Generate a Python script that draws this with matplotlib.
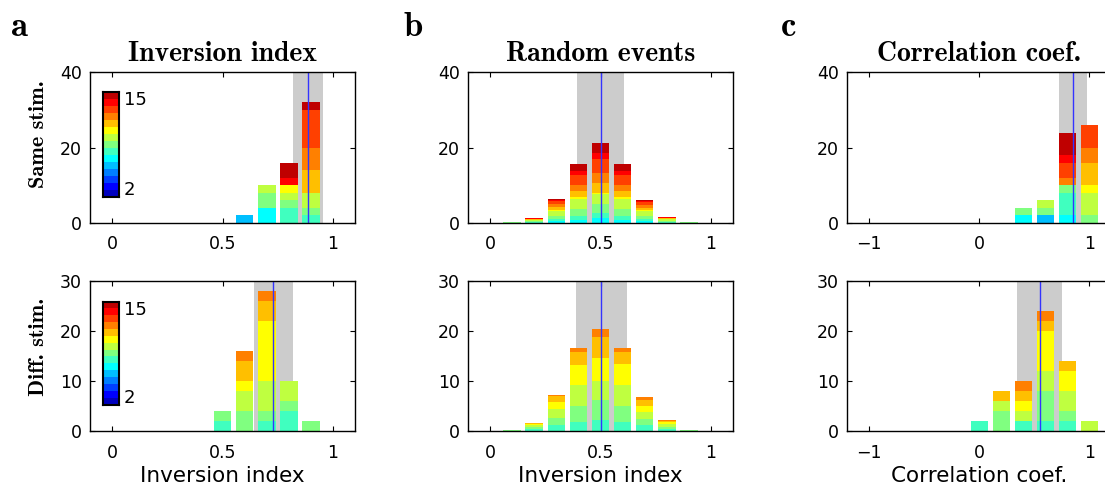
import numpy as np
import matplotlib
matplotlib.use("Agg")
import matplotlib.pyplot as plt
from matplotlib.colors import ListedColormap

# 15-step jet palette; keys of the count tables below index into it
level_colors = [
    (0.00, 0.00, 0.75), (0.00, 0.00, 1.00), (0.00, 0.25, 1.00), (0.00, 0.50, 1.00),
    (0.00, 0.75, 1.00), (0.00, 1.00, 1.00), (0.25, 1.00, 0.75), (0.50, 1.00, 0.50),
    (0.75, 1.00, 0.25), (1.00, 1.00, 0.00), (1.00, 0.75, 0.00), (1.00, 0.50, 0.00),
    (1.00, 0.25, 0.00), (1.00, 0.00, 0.00), (0.75, 0.00, 0.00),
]
cbar_low, cbar_high = 2, 15

# ---- Same stimulus, inversion index ----
same_inv_bins = [0.6, 0.7, 0.8, 0.9]
same_inv_counts = {
    4: [2, 0, 0, 0], 5: [0, 4, 0, 0], 6: [0, 0, 4, 2], 7: [0, 4, 2, 2],
    8: [0, 2, 2, 4], 9: [0, 0, 2, 0], 10: [0, 0, 0, 6], 11: [0, 0, 0, 6],
    12: [0, 0, 0, 10], 13: [0, 0, 2, 0], 14: [0, 0, 4, 2],
}
same_inv_band = (0.82, 0.953)
same_inv_median = 0.885

# ---- Same stimulus, random events ----
same_rand_bins = [0.1, 0.2, 0.3, 0.4, 0.5, 0.6, 0.7, 0.8, 0.9]
same_rand_counts = {
    5:  [0.0, 0.10, 0.4, 0.8, 1.2, 0.8, 0.4, 0.10, 0.0],
    6:  [0.1, 0.20, 0.6, 1.1, 1.5, 1.1, 0.6, 0.20, 0.1],
    7:  [0.1, 0.20, 0.8, 1.8, 2.3, 1.8, 0.8, 0.30, 0.1],
    8:  [0.0, 0.30, 1.4, 2.7, 2.6, 2.7, 1.3, 0.40, 0.0],
    9:  [0.0, 0.05, 0.3, 0.5, 0.4, 0.5, 0.3, 0.05, 0.0],
    10: [0.0, 0.10, 0.8, 1.5, 2.7, 1.5, 0.7, 0.20, 0.0],
    11: [0.0, 0.10, 0.7, 1.6, 2.6, 1.6, 0.6, 0.10, 0.0],
    12: [0.0, 0.10, 0.8, 2.7, 3.7, 2.7, 0.8, 0.10, 0.0],
    13: [0.0, 0.05, 0.3, 1.1, 1.6, 1.1, 0.3, 0.05, 0.0],
    14: [0.0, 0.10, 0.4, 1.9, 2.7, 1.9, 0.3, 0.10, 0.0],
}
same_rand_band = (0.394, 0.605)
same_rand_median = 0.5

# ---- Same stimulus, correlation coefficient ----
same_corr_bins = [0.4, 0.6, 0.8, 1.0]
same_corr_counts = {
    4: [0, 2, 0, 0], 5: [2, 0, 2, 0], 6: [0, 0, 6, 0], 7: [2, 2, 2, 2],
    8: [0, 2, 0, 6], 9: [0, 0, 0, 2], 10: [0, 0, 0, 6], 11: [0, 0, 2, 4],
    12: [0, 0, 4, 6], 13: [0, 0, 2, 0], 14: [0, 0, 6, 0],
}
same_corr_band = (0.72, 0.98)
same_corr_median = 0.85

# ---- Different stimulus, inversion index ----
diff_inv_bins = [0.5, 0.6, 0.7, 0.8, 0.9]
diff_inv_counts = {
    6: [2, 0, 2, 4, 0], 7: [2, 4, 2, 2, 2], 8: [0, 4, 6, 4, 0],
    9: [0, 2, 12, 0, 0], 10: [0, 4, 4, 0, 0], 11: [0, 2, 2, 0, 0],
}
diff_inv_band = (0.644, 0.82)
diff_inv_median = 0.73

# ---- Different stimulus, random events ----
diff_rand_bins = [0.1, 0.2, 0.3, 0.4, 0.5, 0.6, 0.7, 0.8, 0.9]
diff_rand_counts = {
    6:  [0.1, 0.4, 1.3, 1.9, 2.3, 1.9, 1.2, 0.4, 0.1],
    7:  [0.1, 0.4, 1.4, 3.2, 3.9, 3.2, 1.2, 0.5, 0.1],
    8:  [0.0, 0.4, 1.8, 4.1, 3.8, 4.2, 1.4, 0.5, 0.0],
    9:  [0.0, 0.3, 1.4, 4.0, 4.6, 4.2, 1.3, 0.4, 0.0],
    10: [0.0, 0.2, 1.2, 2.6, 4.2, 2.4, 1.2, 0.3, 0.0],
    11: [0.0, 0.0, 0.1, 0.8, 1.6, 0.7, 0.5, 0.1, 0.0],
}
diff_rand_band = (0.39, 0.62)
diff_rand_median = 0.5

# ---- Different stimulus, correlation coefficient ----
diff_corr_bins = [0.0, 0.2, 0.4, 0.6, 0.8, 1.0]
diff_corr_counts = {
    6: [2, 0, 2, 2, 2, 0], 7: [0, 4, 0, 6, 2, 0], 8: [0, 2, 2, 4, 4, 2],
    9: [0, 0, 2, 8, 4, 0], 10: [0, 2, 2, 2, 2, 0], 11: [0, 0, 2, 2, 0, 0],
}
diff_corr_band = (0.345, 0.75)
diff_corr_median = 0.55

column_titles = ["Inversion index", "Random events", "Correlation coef."]
row_labels = ["Same stim.", "Diff. stim."]
panel_letters = ["a", "b", "c"]
x_labels = ["Inversion index", "Inversion index", "Correlation coef."]

SANS = "DejaVu Sans"
SERIF_BOLD = "cmb10"

W, H = 1105, 493
fig = plt.figure(figsize=(W / 100, H / 100), dpi=100)


def px_axes(left, top, right, bottom):
    return fig.add_axes([left / W, 1 - bottom / H, (right - left) / W, (bottom - top) / H])


def stacked(ax, bins, counts, width):
    bottom = np.zeros(len(bins))
    for lvl in sorted(counts):
        vals = np.asarray(counts[lvl], dtype=float)
        ax.bar(bins, vals, width=width, bottom=bottom, color=level_colors[lvl],
               linewidth=0, zorder=2)
        bottom += vals


def style(ax, xlim, xticks, xticklabels, ylim, yticks):
    ax.set_xlim(*xlim)
    ax.set_ylim(*ylim)
    ax.set_xticks(xticks)
    ax.set_xticklabels(xticklabels)
    ax.set_yticks(yticks)
    ax.tick_params(direction="in", length=3.5, width=0.8, top=True, right=True,
                   labelsize=12.5, pad=6, colors="black")
    ax.tick_params(axis="x", pad=9)
    for lab in ax.get_xticklabels() + ax.get_yticklabels():
        lab.set_fontfamily(SANS)
    for sp in ax.spines.values():
        sp.set_linewidth(1.0)
        sp.set_zorder(5)


col_left = [90, 468, 847.3]
col_right = [355, 733, 1111.3]
row_top = [72.3, 281.0]
row_bottom = [223.0, 431.3]

panels = [
    [(same_inv_bins, same_inv_counts, same_inv_band, same_inv_median),
     (same_rand_bins, same_rand_counts, same_rand_band, same_rand_median),
     (same_corr_bins, same_corr_counts, same_corr_band, same_corr_median)],
    [(diff_inv_bins, diff_inv_counts, diff_inv_band, diff_inv_median),
     (diff_rand_bins, diff_rand_counts, diff_rand_band, diff_rand_median),
     (diff_corr_bins, diff_corr_counts, diff_corr_band, diff_corr_median)],
]

for r in range(2):
    for c in range(3):
        bins, counts, band, med = panels[r][c]
        ax = px_axes(col_left[c], row_top[r], col_right[c], row_bottom[r])
        ax.axvspan(band[0], band[1], color="#cccccc", linewidth=0, zorder=1)
        width = 0.16 if c == 2 else 0.08
        stacked(ax, bins, counts, width)
        ax.axvline(med, color=(0.2, 0.2, 1.0), linewidth=1.0, zorder=3)
        if c == 2:
            style(ax, (-1.2, 1.2), [-1, 0, 1], ["\u22121", "0", "1"],
                  (0, 40) if r == 0 else (0, 30),
                  [0, 20, 40] if r == 0 else [0, 10, 20, 30])
        else:
            style(ax, (-0.1, 1.1), [0, 0.5, 1], ["0", "0.5", "1"],
                  (0, 40) if r == 0 else (0, 30),
                  [0, 20, 40] if r == 0 else [0, 10, 20, 30])
        if r == 1:
            ax.set_xlabel(x_labels[c], fontfamily=SANS, fontsize=15.5, labelpad=3)

# level colour keys inside the inversion-index panels
for top, bottom in [(92.3, 196.7), (301.7, 405.0)]:
    cax = px_axes(103.3, top, 119.0, bottom)
    cax.imshow(np.arange(len(level_colors)).reshape(-1, 1), origin="lower",
               aspect="auto", cmap=ListedColormap(level_colors),
               interpolation="nearest")
    cax.set_xticks([])
    cax.set_yticks([])
    for sp in cax.spines.values():
        sp.set_linewidth(1.5)
    fig.text(124 / W, 1 - (top - 1) / H, str(cbar_high), fontfamily=SANS,
             fontsize=13, ha="left", va="top")
    fig.text(124 / W, 1 - (bottom + 2) / H, str(cbar_low), fontfamily=SANS,
             fontsize=13, ha="left", va="bottom")

# column titles and panel letters
title_cx = [(l + rr) / 2 for l, rr in zip(col_left, col_right)]
title_cx[2] = 979
for c in range(3):
    fig.text(title_cx[c] / W, 1 - 54 / H, column_titles[c], fontfamily=SERIF_BOLD,
             fontsize=20, ha="center", va="center")
for x, letter in zip([19, 413, 789], panel_letters):
    fig.text(x / W, 1 - 27 / H, letter, fontfamily=SERIF_BOLD, fontsize=25,
             ha="center", va="center")

# row labels
for yc, label in zip([134.0, 347.0], row_labels):
    fig.text(38 / W, 1 - yc / H, label, fontfamily=SERIF_BOLD, fontsize=16,
             rotation=90, ha="center", va="center")

fig.savefig("out.png", dpi=100)
